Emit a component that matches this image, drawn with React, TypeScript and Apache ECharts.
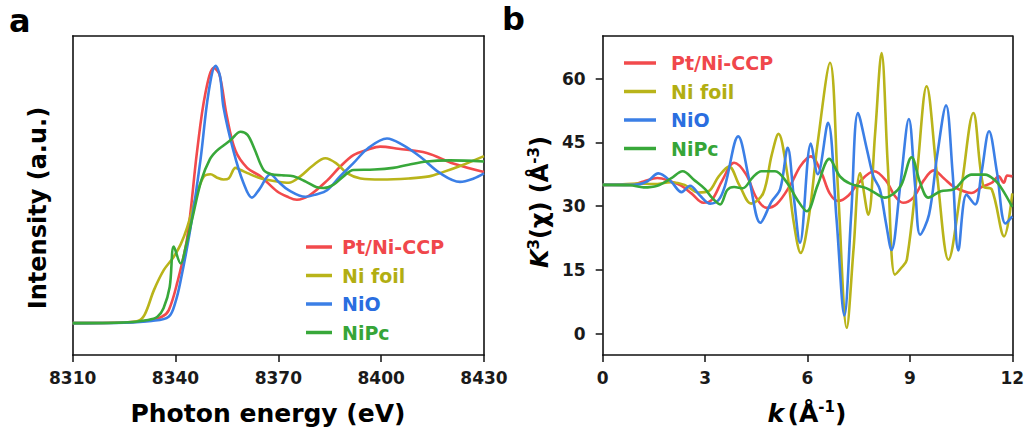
import React, { useEffect, useRef } from "react";
import * as echarts from "echarts";

const FONT = "DejaVu Sans";

const seriesNames = ["Pt/Ni-CCP", "Ni foil", "NiO", "NiPc"];
const lineColors = ["#f24a4c", "#b9b41a", "#3b7fe6", "#38a83a"];
const textColors = ["#f0474b", "#b2ae12", "#2a6ee0", "#36a538"];

// Panel a: XANES (Photon energy, eV / normalized intensity, a.u.)
const eCCP = [8310, 8325, 8332, 8336, 8338, 8340.5, 8343.4, 8346.3, 8348.7, 8351.2, 8352.8, 8355, 8357.5, 8360.9, 8364.8, 8369.6, 8372.5, 8375.4, 8379, 8384.2, 8388, 8391.9, 8396, 8399.7, 8405, 8413.3, 8421, 8430];
const muCCP = [0, 0.003, 0.012, 0.03, 0.06, 0.19, 0.4, 0.81, 1.08, 1.2, 1.17, 0.97, 0.81, 0.73, 0.69, 0.62, 0.595, 0.58, 0.6, 0.67, 0.735, 0.79, 0.815, 0.83, 0.82, 0.8, 0.75, 0.71];

const eFoil = [8310, 8325, 8329, 8331, 8333.7, 8336.6, 8339.4, 8341.5, 8343.4, 8346.3, 8348.3, 8350.2, 8352, 8354, 8355.5, 8357.5, 8359, 8361, 8365, 8370, 8373, 8376.4, 8380, 8383.7, 8387, 8390, 8394, 8400, 8408, 8414, 8418, 8424, 8430];
const muFoil = [0, 0.003, 0.01, 0.04, 0.155, 0.25, 0.31, 0.37, 0.45, 0.61, 0.69, 0.7, 0.685, 0.675, 0.68, 0.73, 0.72, 0.705, 0.68, 0.665, 0.66, 0.69, 0.74, 0.775, 0.75, 0.705, 0.68, 0.675, 0.68, 0.69, 0.71, 0.745, 0.785];

const eNiO = [8310, 8325, 8333, 8338, 8340, 8341.5, 8344.4, 8347.3, 8349.6, 8351.7, 8353, 8354, 8356.9, 8359.8, 8362.3, 8364.5, 8367.7, 8370, 8373, 8377.9, 8381, 8384.2, 8388, 8391.9, 8396, 8401.7, 8406, 8411.4, 8417.2, 8423, 8427, 8430];
const muNiO = [0, 0.002, 0.01, 0.03, 0.1, 0.2, 0.45, 0.77, 1.08, 1.21, 1.16, 1.015, 0.81, 0.66, 0.59, 0.63, 0.7, 0.665, 0.625, 0.594, 0.605, 0.625, 0.69, 0.752, 0.82, 0.868, 0.84, 0.782, 0.705, 0.664, 0.68, 0.704];

const eNiPc = [8310, 8325, 8332, 8334.7, 8336.5, 8338.3, 8339.5, 8341.5, 8343, 8345, 8347.5, 8350, 8352, 8354, 8356, 8359, 8361, 8363, 8365.7, 8368, 8371, 8374.4, 8378, 8381, 8383.1, 8386, 8389, 8391.9, 8398, 8403.5, 8408, 8413.3, 8420, 8430];
const muNiPc = [0, 0.003, 0.015, 0.03, 0.07, 0.17, 0.36, 0.28, 0.36, 0.5, 0.67, 0.77, 0.81, 0.835, 0.86, 0.9, 0.885, 0.82, 0.72, 0.7, 0.695, 0.69, 0.665, 0.64, 0.635, 0.65, 0.69, 0.72, 0.722, 0.73, 0.745, 0.76, 0.765, 0.76];

// Panel b: EXAFS k^3-weighted chi(k)
const kCCP = [0, 0.8, 1.2, 1.6, 2.0, 2.3, 2.6, 2.95, 3.2, 3.5, 3.85, 4.2, 4.5, 4.8, 5.1, 5.5, 5.8, 6.1, 6.4, 6.65, 6.9, 7.2, 7.5, 7.95, 8.3, 8.55, 8.8, 9.1, 9.4, 9.7, 10.0, 10.3, 10.8, 11.1, 11.4, 11.6, 11.75, 11.85, 12];
const chiCCP = [35, 35, 35.8, 36.6, 35.8, 34.8, 33, 30.8, 31.5, 36, 40.2, 37.5, 32, 29.6, 30.5, 35, 39.5, 41.7, 38, 33, 31.2, 32.5, 35.5, 38.2, 36, 32.5, 30.8, 32, 36, 38.4, 36.5, 34.5, 33.1, 34.5, 35.5, 37, 35.5, 37.2, 37];

const kFoil = [0, 0.5, 1.0, 1.5, 2.0, 2.4, 2.8, 3.1, 3.4, 3.7, 4.0, 4.35, 4.7, 4.95, 5.15, 5.4, 5.6, 5.8, 6.05, 6.3, 6.66, 6.9, 7.15, 7.35, 7.54, 7.78, 7.98, 8.17, 8.35, 8.56, 8.75, 8.91, 9.2, 9.49, 9.8, 10.13, 10.5, 10.86, 11.15, 11.4, 11.76, 12];
const chiFoil = [35, 35.1, 35.3, 35.2, 35.6, 35.0, 33.2, 33.5, 37.0, 39.3, 35, 30.6, 33, 42, 47, 38, 26, 19, 28, 45, 63.7, 33, 1.4, 20, 37.8, 28, 47, 66, 40, 13.9, 15.5, 17.4, 37, 58.2, 37, 17.4, 34, 51.9, 34.7, 33.9, 22.9, 33];

const kNiO = [0, 0.9, 1.3, 1.63, 2.0, 2.31, 2.56, 2.85, 3.15, 3.4, 3.58, 3.97, 4.3, 4.62, 4.95, 5.2, 5.42, 5.6, 5.78, 6.1, 6.3, 6.6, 6.85, 7.08, 7.28, 7.48, 7.75, 7.93, 8.12, 8.3, 8.46, 8.72, 8.97, 9.15, 9.3, 9.56, 9.8, 10.06, 10.25, 10.42, 10.66, 10.91, 11.1, 11.32, 11.55, 11.8, 12];
const chiNiO = [35, 35, 35.8, 37.7, 35.8, 33.3, 34.8, 32.5, 30.6, 31.5, 34.7, 46.4, 36, 26.1, 31.1, 34, 43.7, 32, 21.4, 44.7, 37.5, 49.6, 27, 4.3, 28, 51.9, 43, 37, 33.9, 26, 19.7, 35, 50.5, 35, 23.3, 28, 42, 53.7, 38, 19.6, 32.7, 30.4, 38, 47.6, 38, 25.9, 27.6];

const kNiPc = [0, 0.8, 1.2, 1.6, 2.0, 2.34, 2.7, 3.0, 3.2, 3.44, 3.65, 3.85, 4.1, 4.4, 4.65, 5.05, 5.4, 5.7, 5.98, 6.3, 6.64, 6.95, 7.25, 7.7, 8.0, 8.25, 8.5, 8.75, 9.05, 9.3, 9.54, 9.9, 10.3, 10.6, 10.8, 11.2, 11.5, 11.7, 12];
const chiNiPc = [35, 34.9, 34.4, 34.8, 36.5, 38.2, 36, 34, 32, 30.4, 33.8, 34.5, 34.2, 36.8, 38.2, 38.2, 35.5, 31.5, 28.8, 35, 41.1, 37, 35.3, 34.3, 33, 32, 32.8, 35, 41.5, 35.5, 32, 33.5, 34, 36.5, 37.4, 37.4, 36, 34, 29.8];

const energyTicks = { min: 8310, max: 8430, interval: 30 };
const kTicks = { min: 0, max: 12, interval: 3 };
const chiTickValues = [0, 15, 30, 45, 60];

const pairs = (x: number[], y: number[]) => x.map((v, i) => [v, y[i]]);

const panelA = [
  pairs(eCCP, muCCP),
  pairs(eFoil, muFoil),
  pairs(eNiO, muNiO),
  pairs(eNiPc, muNiPc),
];
const panelB = [
  pairs(kCCP, chiCCP),
  pairs(kFoil, chiFoil),
  pairs(kNiO, chiNiO),
  pairs(kNiPc, chiNiPc),
];

export default function App() {
  const ref = useRef<HTMLDivElement>(null);

  useEffect(() => {
    if (!ref.current) return;
    const chart = echarts.init(ref.current, undefined, { renderer: "svg" });

    const axisLine = { show: true, onZero: false, lineStyle: { color: "#111", width: 1.6 } };
    const axisLabel = {
      fontSize: 17,
      fontWeight: "bold" as const,
      color: "#1a1a1a",
      fontFamily: FONT,
      formatter: (v: number) => String(v),
    };
    const frameAxis = (gridIndex: number, position: string, min: number, max: number) => ({
      gridIndex,
      type: "value" as const,
      position,
      min,
      max,
      axisLine,
      axisTick: { show: false },
      axisLabel: { show: false },
      splitLine: { show: false },
    });

    const legendFor = (left: number, top: number, pad: number, w: number) => ({
      orient: "vertical" as const,
      left,
      top,
      itemWidth: w,
      itemHeight: 3.5,
      itemGap: 8.5,
      icon: "rect",
      selectedMode: false,
      textStyle: {
        fontSize: 19,
        fontWeight: "bold" as const,
        fontFamily: FONT,
        lineHeight: 20,
        padding: [0, 0, 0, pad],
      },
      data: seriesNames.map((n, i) => ({
        name: n,
        textStyle: { color: textColors[i] },
      })),
    });

    const mkSeries = (data: number[][][], idx: number) =>
      data.map((d, i) => ({
        name: seriesNames[i],
        type: "line" as const,
        xAxisIndex: idx,
        yAxisIndex: idx,
        data: d,
        showSymbol: false,
        symbol: "none",
        smooth: 0.35,
        color: lineColors[i],
        lineStyle: { width: 2.6, color: lineColors[i] },
        z: 2 + i,
      }));

    chart.setOption({
      animation: false,
      backgroundColor: "#ffffff",
      grid: [
        { left: 72.7, top: 36, width: 411.3, height: 319 },
        { left: 602.7, top: 36, width: 409.6, height: 319 },
      ],
      xAxis: [
        {
          gridIndex: 0,
          type: "value",
          position: "bottom",
          ...energyTicks,
          axisLine,
          axisTick: { show: true, inside: false, length: 7, lineStyle: { color: "#111", width: 1.5 } },
          axisLabel: { ...axisLabel, margin: 14 },
          splitLine: { show: false },
        },
        {
          gridIndex: 1,
          type: "value",
          position: "bottom",
          ...kTicks,
          axisLine,
          axisTick: { show: true, inside: false, length: 7, lineStyle: { color: "#111", width: 1.5 } },
          axisLabel: { ...axisLabel, margin: 14 },
          splitLine: { show: false },
        },
        frameAxis(0, "top", energyTicks.min, energyTicks.max),
        frameAxis(1, "top", kTicks.min, kTicks.max),
      ],
      yAxis: [
        {
          gridIndex: 0,
          type: "value",
          position: "left",
          min: -0.15,
          max: 1.35,
          axisLine,
          axisTick: { show: false },
          axisLabel: { show: false },
          splitLine: { show: false },
        },
        {
          gridIndex: 1,
          type: "value",
          position: "left",
          min: -5,
          max: 70,
          axisLine,
          axisTick: { show: true, inside: false, length: 7, customValues: chiTickValues, lineStyle: { color: "#111", width: 1.5 } },
          axisLabel: { ...axisLabel, margin: 17, customValues: chiTickValues },
          splitLine: { show: false },
        },
        frameAxis(0, "right", -0.15, 1.35),
        frameAxis(1, "right", -5, 70),
      ],
      legend: [legendFor(301, 232, 5, 26), legendFor(619, 48, 10, 32)],
      series: [...mkSeries(panelA, 0), ...mkSeries(panelB, 1)],
      graphic: [
        { type: "text", left: 9, top: 5, style: { text: "a", fontSize: 32, fontWeight: "bold", fontFamily: FONT, fill: "#000" } },
        { type: "text", left: 502, top: 3, style: { text: "b", fontSize: 32, fontWeight: "bold", fontFamily: FONT, fill: "#000" } },
        {
          type: "text",
          x: 38,
          y: 208,
          rotation: Math.PI / 2,
          style: { text: "Intensity (a.u.)", fontSize: 24, fontWeight: "bold", fontFamily: FONT, fill: "#000", align: "center", verticalAlign: "middle" },
        },
        {
          type: "text",
          x: 268,
          y: 413,
          style: { text: "Photon energy (eV)", fontSize: 25, fontWeight: "bold", fontFamily: FONT, fill: "#000", align: "center", verticalAlign: "middle" },
        },
        {
          type: "text",
          x: 540,
          y: 202,
          rotation: Math.PI / 2,
          style: {
            text: "{i|K}{s|3}{n|(χ) (Å}{s|-3}{n|)}",
            align: "center",
            verticalAlign: "middle",
            fill: "#000",
            rich: {
              i: { fontSize: 24, fontWeight: "bold", fontStyle: "italic", fontFamily: FONT, fill: "#000", lineHeight: 28 },
              n: { fontSize: 24, fontWeight: "bold", fontFamily: FONT, fill: "#000", lineHeight: 28 },
              s: { fontSize: 15, fontWeight: "bold", fontFamily: FONT, fill: "#000", verticalAlign: "top", lineHeight: 28 },
            },
          },
        },
        {
          type: "text",
          x: 807,
          y: 413,
          style: {
            text: "{i|k} {n|(Å}{s|-1}{n|)}",
            align: "center",
            verticalAlign: "middle",
            fill: "#000",
            rich: {
              i: { fontSize: 25, fontWeight: "bold", fontStyle: "italic", fontFamily: FONT, fill: "#000", lineHeight: 28 },
              n: { fontSize: 25, fontWeight: "bold", fontFamily: FONT, fill: "#000", lineHeight: 28 },
              s: { fontSize: 15, fontWeight: "bold", fontFamily: FONT, fill: "#000", verticalAlign: "top", lineHeight: 28 },
            },
          },
        },
      ],
    });

    return () => chart.dispose();
  }, []);

  return (
    <div
      ref={ref}
      style={{ position: "fixed", left: 0, top: 0, width: 1028, height: 439, background: "#fff" }}
    />
  );
}
